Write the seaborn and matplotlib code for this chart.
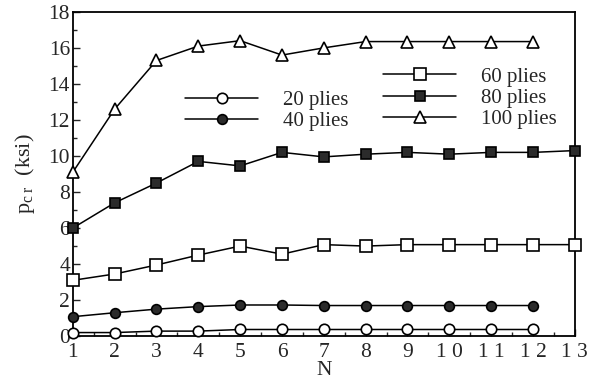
import numpy as np
import pandas as pd
import matplotlib
matplotlib.use("Agg")
import matplotlib.pyplot as plt
import seaborn as sns
from matplotlib.ticker import MultipleLocator
from matplotlib.lines import Line2D

# buckling pressure vs N
N_12 = [1, 2, 3, 4, 5, 6, 7, 8, 9, 10, 11, 12]
N_13 = [1, 2, 3, 4, 5, 6, 7, 8, 9, 10, 11, 12, 13]
p20 = [0.2, 0.2, 0.28, 0.28, 0.37, 0.37, 0.37, 0.37, 0.37, 0.37, 0.37, 0.37]
p40 = [1.08, 1.3, 1.5, 1.64, 1.73, 1.73, 1.7, 1.7, 1.7, 1.7, 1.7, 1.7]
p60 = [3.1, 3.45, 3.95, 4.5, 5.0, 4.55, 5.08, 5.0, 5.08, 5.08, 5.08, 5.08, 5.08]
p80 = [6.0, 7.4, 8.5, 9.7, 9.45, 10.2, 9.95, 10.1, 10.2, 10.1, 10.2, 10.2, 10.3]
p100 = [9.1, 12.6, 15.3, 16.1, 16.4, 15.6, 16.0, 16.35, 16.35, 16.35, 16.35, 16.35]

sns.set_style("ticks")
plt.rcParams['font.family'] = ['Liberation Serif', 'DejaVu Serif']
plt.rcParams['mathtext.fontset'] = 'custom'
plt.rcParams['mathtext.rm'] = 'Liberation Serif'
plt.rcParams['mathtext.it'] = 'Liberation Serif:italic'

fig = plt.figure(figsize=(5.92, 3.82), dpi=100)
ax = fig.add_axes([0.123, 0.12, 0.848, 0.849])

dark = '#2b2b2b'
series = [
    ("20 plies", N_12, p20, 'o', 'white', 7.5),
    ("40 plies", N_12, p40, 'o', dark, 7),
    ("60 plies", N_13, p60, 's', 'white', 8),
    ("80 plies", N_13, p80, 's', dark, 7.5),
    ("100 plies", N_12, p100, '^', 'white', 8),
]
handles = {}
for name, xs, ys, mk, fc, ms in series:
    df = pd.DataFrame({"N": xs, "p": ys})
    sns.lineplot(data=df, x="N", y="p", ax=ax, color='black', lw=1.1,
                 marker=mk, markersize=ms, markerfacecolor=fc,
                 markeredgecolor='black', markeredgewidth=1.2, clip_on=False,
                 zorder=3)
    handles[name] = Line2D([], [], color='black', lw=1.1, marker=mk,
                           markersize=ms, markerfacecolor=fc,
                           markeredgecolor='black', markeredgewidth=1.2)

ax.set_xlim(1, 13)
ax.set_ylim(0, 18)
ax.xaxis.set_minor_locator(MultipleLocator(0.5))
ax.yaxis.set_major_locator(MultipleLocator(2))
ax.yaxis.set_minor_locator(MultipleLocator(1))
ax.set_xticks(N_13)
ax.set_xticklabels([" ".join(str(i)) for i in N_13])
ax.tick_params(which='both', direction='in', top=False, right=False,
               labelsize=15.5, width=1.0)
ax.tick_params(axis='x', pad=5)
ax.tick_params(axis='y', pad=2)
ax.tick_params(which='major', length=5)
ax.tick_params(which='minor', length=3)
for s in ax.spines.values():
    s.set_linewidth(1.3)
    s.set_color('black')

ax.set_xlabel("N", fontsize=15.5, labelpad=-1)
ax.set_ylabel(r"$\mathregular{p_{c\ r}}$  (ksi)", fontsize=16, labelpad=8)

leg1 = ax.legend([handles["20 plies"], handles["40 plies"]], ["20 plies", "40 plies"],
                 loc='upper left', bbox_to_anchor=(0.203, 0.79), frameon=False,
                 fontsize=15, handlelength=3.5, handletextpad=1.2,
                 labelspacing=0.08, borderpad=0)
ax.add_artist(leg1)
ax.legend([handles["60 plies"], handles["80 plies"], handles["100 plies"]],
          ["60 plies", "80 plies", "100 plies"],
          loc='upper left', bbox_to_anchor=(0.598, 0.862), frameon=False,
          fontsize=15, handlelength=3.5, handletextpad=1.2,
          labelspacing=0.08, borderpad=0)

fig.savefig("out.png", dpi=100)
